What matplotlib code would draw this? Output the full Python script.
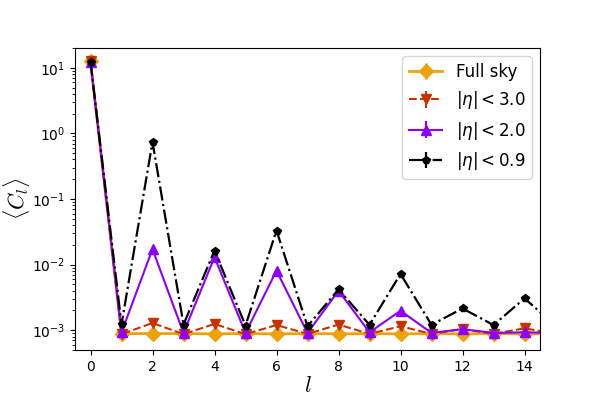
import numpy as np
import matplotlib
matplotlib.use("Agg")
import matplotlib.pyplot as plt

ells = np.arange(0, 17)

full_sky = [12.5, 8.9e-4, 8.9e-4, 8.9e-4, 8.8e-4, 8.9e-4, 8.8e-4, 8.9e-4, 8.8e-4,
            8.9e-4, 8.8e-4, 8.9e-4, 8.8e-4, 8.9e-4, 8.8e-4, 8.9e-4, 8.8e-4]
eta_30 = [12.5, 8.7e-4, 1.29e-3, 8.7e-4, 1.25e-3, 8.7e-4, 1.2e-3, 8.8e-4, 1.22e-3,
          8.8e-4, 1.15e-3, 8.8e-4, 1.04e-3, 8.8e-4, 1.07e-3, 8.9e-4, 1.0e-3]
eta_20 = [12.3, 9.3e-4, 1.72e-2, 9.1e-4, 1.3e-2, 9.1e-4, 8.1e-3, 9.1e-4, 4.0e-3,
          9.3e-4, 1.98e-3, 9.1e-4, 1.04e-3, 9.1e-4, 9.3e-4, 9.1e-4, 9.2e-4]
eta_09 = [12.4, 1.23e-3, 0.74, 1.22e-3, 1.64e-2, 1.18e-3, 3.31e-2, 1.15e-3, 4.2e-3,
          1.21e-3, 7.2e-3, 1.21e-3, 2.15e-3, 1.2e-3, 3.06e-3, 1.18e-3, 1.9e-3]

series = [
    ("Full sky", full_sky, "#eea20a", "-", "D", 2.0, 7),
    (r"$|\eta| < 3.0$", eta_30, "#c83200", "--", "v", 1.5, 7),
    (r"$|\eta| < 2.0$", eta_20, "#8b00ff", "-", "^", 1.5, 7),
    (r"$|\eta| < 0.9$", eta_09, "black", "-.", "p", 1.6, 6),
]

fig, ax = plt.subplots(figsize=(6, 4), dpi=100)
fig.subplots_adjust(left=0.125, right=0.9, top=0.88, bottom=0.125)

for label, vals, col, ls, mk, lw, ms in series:
    vals = np.array(vals)
    ax.errorbar(ells, vals, yerr=0.04 * vals, color=col, ls=ls, marker=mk,
                lw=lw, ms=ms, label=label)

ax.set_yscale("log")
ax.set_xlim(-0.5, 14.5)
ax.set_ylim(5e-4, 20)
ax.set_xticks(range(0, 15, 2))
ax.set_xlabel(r"$l$", fontsize=16, math_fontfamily="cm", labelpad=2)
ax.set_ylabel(r"$\langle C_l \rangle$", fontsize=16, math_fontfamily="cm", labelpad=0)
ax.legend(loc="upper right", fontsize=12)

fig.savefig("out.png", dpi=100)
